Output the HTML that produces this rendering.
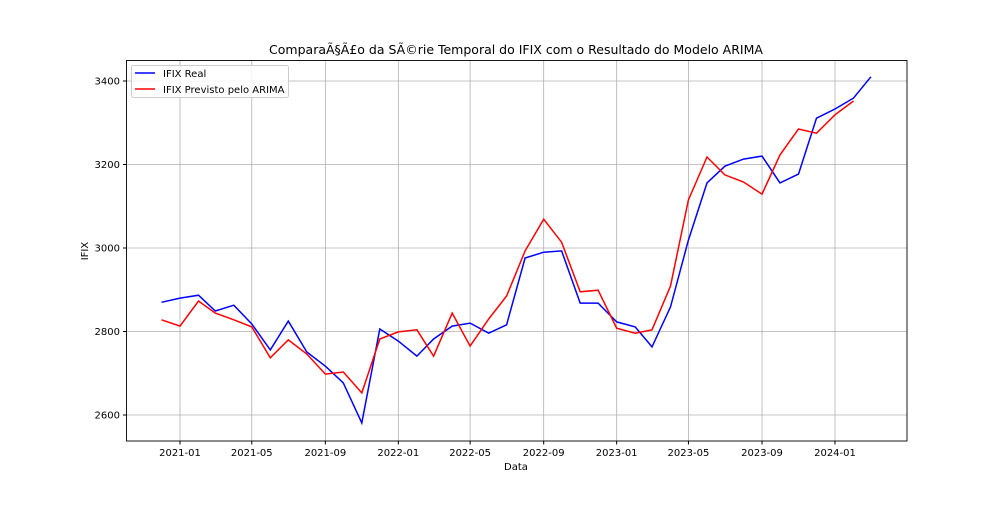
<!DOCTYPE html>
<html><head><meta charset="utf-8"><style>
body{margin:0;background:#fff;font-family:"Liberation Sans","DejaVu Sans",sans-serif;}
svg text{font-family:"DejaVu Sans","Liberation Sans",sans-serif;}
</style></head><body>
<svg id="chart" width="1008" height="504" xmlns="http://www.w3.org/2000/svg">
<rect width="1008" height="504" fill="#fff"/>
<text x="516" y="54" text-anchor="middle" font-size="12.5" fill="#000">ComparaÃ§Ã£o da SÃ©rie Temporal do IFIX com o Resultado do Modelo ARIMA</text>
<g id="grid"></g><g id="series"></g>
<rect x="126.5" y="60.5" width="780.5" height="380.5" fill="none" stroke="#000" stroke-width="0.9"/>
<text x="516" y="470" text-anchor="middle" font-size="10" fill="#000">Data</text>
<text x="88" y="251" text-anchor="middle" font-size="10" fill="#000" transform="rotate(-90 88 251)">IFIX</text>
<g>
<rect x="131.5" y="65.5" width="157" height="32" rx="2" fill="#fff" fill-opacity="0.85" stroke="#ccc"/>
<line x1="135" y1="73" x2="155" y2="73" stroke="#0000ff" stroke-width="1.5"/>
<text x="163" y="77" font-size="10">IFIX Real</text>
<line x1="135" y1="89" x2="155" y2="89" stroke="#ff0000" stroke-width="1.5"/>
<text x="163" y="93" font-size="10">IFIX Previsto pelo ARIMA</text>
</g>
</svg>
<script>
const realDates=["2020-12","2021-01","2021-02","2021-03","2021-04","2021-05","2021-06","2021-07","2021-08","2021-09","2021-10","2021-11","2021-12","2022-01","2022-02","2022-03","2022-04","2022-05","2022-06","2022-07","2022-08","2022-09","2022-10","2022-11","2022-12","2023-01","2023-02","2023-03","2023-04","2023-05","2023-06","2023-07","2023-08","2023-09","2023-10","2023-11","2023-12","2024-01","2024-02","2024-03"];
const realValues=[2870,2880,2887,2849,2863,2818,2756,2825,2751,2717,2677,2581,2806,2777,2741,2782,2813,2820,2796,2816,2976,2990,2993,2868,2868,2823,2811,2763,2859,3019,3156,3196,3213,3220,3156,3177,3311,3333,3359,3410];
const predValues=[2828,2813,2873,2844,2828,2811,2737,2780,2746,2698,2703,2653,2782,2799,2804,2741,2844,2765,2830,2885,2993,3069,3014,2895,2899,2808,2796,2804,2909,3115,3218,3175,3158,3129,3223,3285,3275,3319,3352];
const yTicks=[2600,2800,3000,3200,3400];
const xTicks=["2021-01","2021-05","2021-09","2022-01","2022-05","2022-09","2023-01","2023-05","2023-09","2024-01"];
const NS="http://www.w3.org/2000/svg";
const day=s=>Date.UTC(+s.slice(0,4),+s.slice(5,7)-1,1)/864e5;
const d0=day("2021-01"),d1=day("2024-01");
const X=s=>180+(day(s)-d0)*(835-180)/(d1-d0);
const Y=v=>415-(v-2600)*(415-81)/800;
const grid=document.getElementById('grid'),ser=document.getElementById('series');
function mk(tag,attrs,parent){const e=document.createElementNS(NS,tag);for(const k in attrs)e.setAttribute(k,attrs[k]);parent.appendChild(e);return e;}
yTicks.forEach(v=>{const y=Y(v);
const l=mk('line',{x1:126.5,x2:907,y1:y,y2:y,stroke:'#b0b0b0','stroke-width':0.8},grid);


mk('line',{x1:123,x2:126.5,y1:y,y2:y,stroke:'#000'},grid);
const t=mk('text',{x:120,y:y+3.5,'text-anchor':'end','font-size':10},grid);t.textContent=v;

});
xTicks.forEach(s=>{const x=X(s);
const l=mk('line',{x1:x,x2:x,y1:60.5,y2:441,stroke:'#b0b0b0','stroke-width':0.8},grid);


mk('line',{x1:x,x2:x,y1:441,y2:444.5,stroke:'#000'},grid);
const t=mk('text',{x:x,y:456,'text-anchor':'middle','font-size':10},grid);t.textContent=s;

});
function line(vals,color,name){const pts=vals.map((v,i)=>X(realDates[i]).toFixed(1)+','+Y(v).toFixed(1)).join(' ');
const p=mk('polyline',{points:pts,fill:'none',stroke:color,'stroke-width':1.5},ser);

}
line(realValues,'#0000ff','real-line');
line(predValues,'#ff0000','arima-line');
</script>
</body></html>
